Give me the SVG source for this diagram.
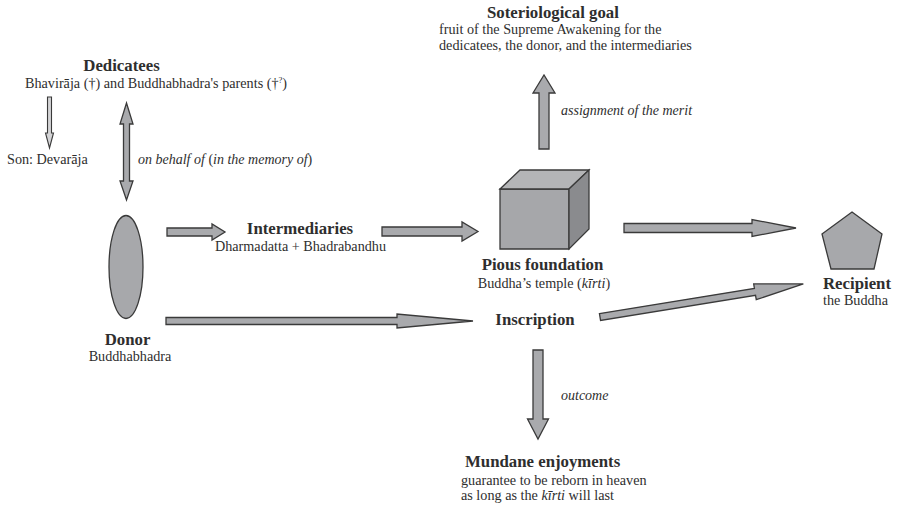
<svg xmlns="http://www.w3.org/2000/svg" width="898" height="508" viewBox="0 0 898 508" font-family="Liberation Serif, DejaVu Serif, serif">
<style>
text{font-family:"Liberation Serif","DejaVu Serif",serif;fill:#2e2e2e}
.t{font-weight:bold;font-size:16.8px}
.s{font-size:14.2px}
.i{font-style:italic;font-size:14px}
.shape{fill:#a7a8ab;stroke:#3a3a3a;stroke-width:1.3;stroke-linejoin:miter}
.arr{fill:#a9aaad;stroke:#3a3a3a;stroke-width:1.3;stroke-linejoin:miter}
</style>
<rect width="898" height="508" fill="#ffffff"/>
<g id="connectors">
  <polygon class="arr" points="167,228 212,228 212,224 225,232 212,240 212,236 167,236"/>
  <polygon class="arr" points="382,227 462,227 462,222 478,231.5 462,241 462,236 382,236"/>
  <polygon class="arr" points="166,317.5 397,317.5 397,314 473,321 397,328 397,324.5 166,324.5"/>
  <polygon class="arr" points="624,223.5 752,223.5 752,219.5 796,228 752,236.5 752,232.5 624,232.5"/>
  <polygon class="arr" transform="translate(600,317) rotate(-9.23)" points="0,-3.5 157,-3.5 157,-8 206,0 157,8 157,3.5 0,3.5"/>
  <polygon class="arr" points="539,149 539,93 533,93 544,75 555,93 549,93 549,149"/>
  <polygon class="arr" points="533,350 543,350 543,419 548.5,419 538,439 527.5,419 533,419"/>
  <polygon class="arr" points="126.5,103 133,124 129.5,124 129.5,181 133,181 126.5,200 120,181 123.5,181 123.5,124 120,124"/>
  <polygon class="arr" style="fill:#d4d4d6;stroke-width:1.1" points="47.5,97 51.5,97 51.5,133 53.5,133 49.5,148 45.5,133 47.5,133"/>
  <text class="i" x="138" y="164">on behalf of <tspan style="font-style:normal">(</tspan>in the memory of<tspan style="font-style:normal">)</tspan></text>
  <text class="i" x="561" y="115">assignment of the merit</text>
  <text class="i" x="561" y="400">outcome</text>
</g>
<g id="dedicatees">
  <text class="t" x="121.5" y="71" text-anchor="middle">Dedicatees</text>
  <text class="s" x="25" y="88">Bhavirāja (†) and Buddhabhadra's parents (†<tspan font-size="8.5" dy="-5">?</tspan><tspan dy="5">)</tspan></text>
</g>
<g id="son">
  <text class="s" x="7" y="164">Son: Devarāja</text>
</g>
<g id="donor">
  <ellipse class="shape" cx="126" cy="267" rx="17" ry="51.5"/>
  <text class="t" x="127.5" y="345" text-anchor="middle">Donor</text>
  <text class="s" x="130" y="361" text-anchor="middle">Buddhabhadra</text>
</g>
<g id="intermediaries">
  <text class="t" x="300" y="234" text-anchor="middle">Intermediaries</text>
  <text class="s" x="300.5" y="251" text-anchor="middle">Dharmadatta + Bhadrabandhu</text>
</g>
<g id="pious-foundation">
  <polygon class="shape" style="fill:#a6a7aa" points="500,189 569,189 569,249 500,249"/>
  <polygon class="shape" style="fill:#b4b5b7" points="500,189 520,170 589,170 569,189"/>
  <polygon class="shape" style="fill:#8a8b8e" points="569,189 589,170 589,229 569,249"/>
  <text class="t" x="542.5" y="270" text-anchor="middle">Pious foundation</text>
  <text class="s" x="544" y="288" text-anchor="middle">Buddha’s temple (<tspan font-style="italic">kīrti</tspan>)</text>
</g>
<g id="inscription">
  <text class="t" x="535" y="325" text-anchor="middle">Inscription</text>
</g>
<g id="recipient">
  <polygon class="shape" points="852,212 882,234 874,269 831,269 822,234"/>
  <text class="t" x="823" y="289">Recipient</text>
  <text class="s" x="823" y="305">the Buddha</text>
</g>
<g id="soteriological-goal">
  <text class="t" x="487" y="18">Soteriological goal</text>
  <text class="s" x="439" y="34">fruit of the Supreme Awakening for the</text>
  <text class="s" x="439" y="50">dedicatees, the donor, and the intermediaries</text>
</g>
<g id="mundane-enjoyments">
  <text class="t" x="465" y="467">Mundane enjoyments</text>
  <text class="s" x="461" y="485">guarantee to be reborn in heaven</text>
  <text class="s" x="461" y="500">as long as the <tspan font-style="italic">kīrti</tspan> will last</text>
</g>
</svg>
